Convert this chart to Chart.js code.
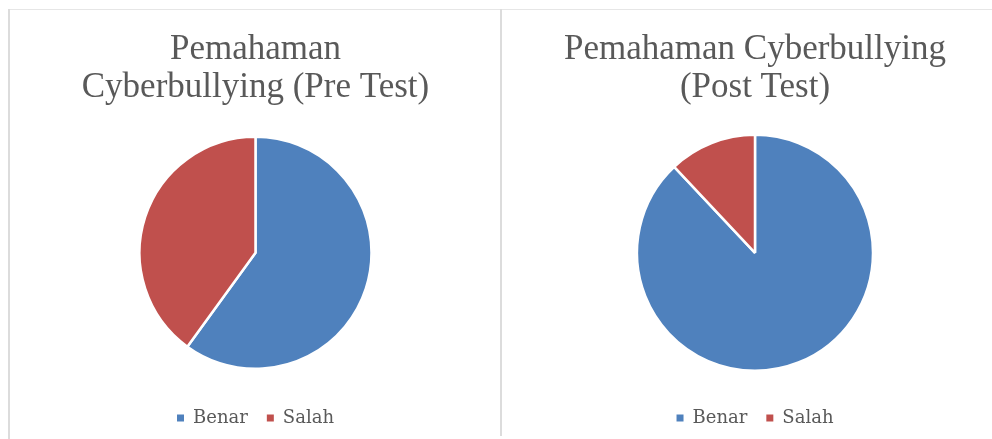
<!DOCTYPE html>
<html>
<head>
<meta charset="utf-8">
<script src="https://cdn.jsdelivr.net/npm/chart.js@4.4.0/dist/chart.umd.min.js"></script>
<style>
    body { margin: 0; background: #fff; width: 992px; height: 439px; overflow: hidden; position: relative; }
    .line { position: absolute; background: #dcdcdc; }
    .box { position: absolute; top: 10px; height: 429px; }
</style>
</head>
<body>
<div class="line" style="left:9px;top:9px;width:983px;height:1px;background:#e6e6e6"></div>
<div class="line" style="left:8px;top:9px;width:2px;height:430px"></div>
<div class="line" style="left:500px;top:9px;width:2px;height:427px"></div>
<div class="box" style="left:11px;width:489px"><canvas id="preChart"></canvas></div>
<div class="box" style="left:502px;width:490px"><canvas id="postChart"></canvas></div>
<script>
const categories = ['Benar', 'Salah'];
const preValues = [60, 40];
const postValues = [88, 12];
const preTitle = ['Pemahaman', 'Cyberbullying (Pre Test)'];
const postTitle = ['Pemahaman Cyberbullying', '(Post Test)'];
const sliceColors = ['#4F81BD', '#C0504D'];

const defaultLabels = Chart.overrides.pie.plugins.legend.labels.generateLabels;

function makePie(id, title, values, radius, padLeft) {
    const ctx = document.getElementById(id).getContext('2d');
    return new Chart(ctx, {
        type: 'pie',
        data: {
            labels: categories,
            datasets: [{
                data: values,
                backgroundColor: sliceColors,
                borderColor: '#ffffff',
                borderWidth: 2.5,
                radius: radius
            }]
        },
        options: {
            responsive: true,
            maintainAspectRatio: false,
            animation: false,
            layout: { padding: { left: padLeft, top: 0, bottom: 2, right: 0 } },
            plugins: {
                tooltip: { enabled: false },
                title: {
                    display: true,
                    text: title,
                    color: '#595959',
                    font: { family: 'Liberation Serif', size: 35, weight: 'normal', lineHeight: 1.08 },
                    padding: { top: 21, bottom: 9 }
                },
                legend: {
                    position: 'bottom',
                    labels: {
                        color: '#595959',
                        font: { family: 'DejaVu Serif', size: 18 },
                        boxWidth: 7,
                        boxHeight: 7,
                        padding: 19,
                        generateLabels: function (chart) {
                            return defaultLabels(chart).map(l => Object.assign(l, { lineWidth: 0 }));
                        }
                    }
                }
            }
        }
    });
}

makePie('preChart', preTitle, preValues, 116, 0);
makePie('postChart', postTitle, postValues, 118, 16);
</script>
</body>
</html>
